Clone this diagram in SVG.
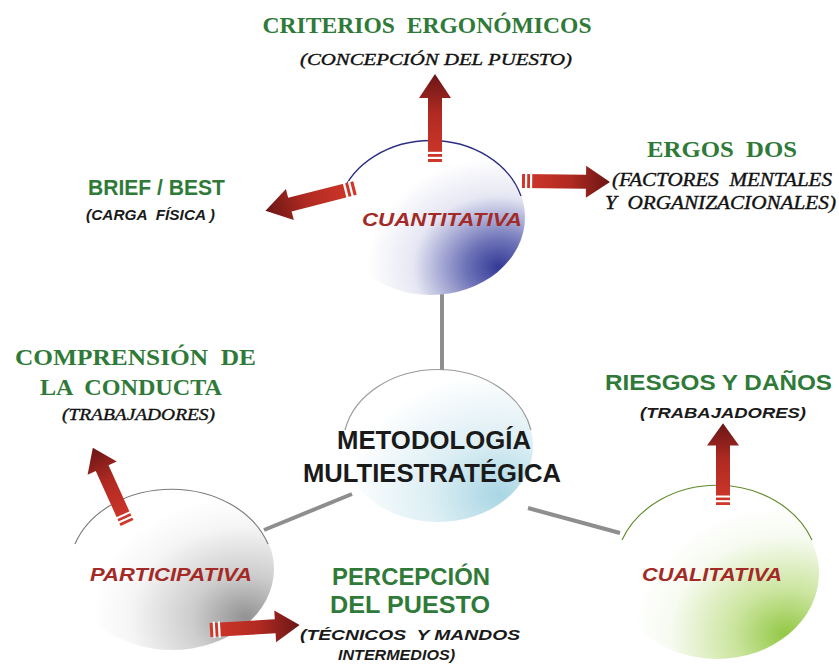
<svg xmlns="http://www.w3.org/2000/svg" xmlns:xlink="http://www.w3.org/1999/xlink" width="839" height="666" viewBox="0 0 839 666" xml:space="preserve">
<style>
text{white-space:pre;}
.g-serif{font-family:"Liberation Serif","Times New Roman",serif;font-weight:bold;fill:#2f7a38;}
.i-serif{font-family:"Liberation Serif","Times New Roman",serif;font-style:italic;fill:#111111;stroke:#111111;stroke-width:0.35;}
.g-sans{font-family:"Liberation Sans",Arial,sans-serif;font-weight:bold;fill:#2f7a38;}
.i-sans{font-family:"Liberation Sans",Arial,sans-serif;font-weight:bold;font-style:italic;fill:#1a1a1a;}
.node-lbl{font-family:"Liberation Sans",Arial,sans-serif;font-weight:bold;font-style:italic;fill:#a32a26;font-size:19px;}
.main-lbl{font-family:"Liberation Sans",Arial,sans-serif;font-weight:bold;fill:#1a1a1a;font-size:25px;}
.conn{stroke:#8e8e8e;stroke-width:4;fill:none;}
</style>
<defs>
<linearGradient id="arrGrad" x1="0" y1="0" x2="1" y2="0">
<stop offset="0" stop-color="#d2372a"/>
<stop offset="0.55" stop-color="#b02a22"/>
<stop offset="1" stop-color="#6a1616"/>
</linearGradient>
<radialGradient id="gBlue" cx="0.86" cy="0.82" r="0.7">
<stop offset="0" stop-color="#343a96"/>
<stop offset="0.25" stop-color="#6e73b8"/>
<stop offset="0.65" stop-color="#e6e7f3"/>
<stop offset="1" stop-color="#ffffff"/>
</radialGradient>
<radialGradient id="gCyan" cx="0.82" cy="0.82" r="0.8">
<stop offset="0" stop-color="#a9d6e4"/>
<stop offset="0.45" stop-color="#dceef4"/>
<stop offset="1" stop-color="#ffffff"/>
</radialGradient>
<radialGradient id="gGray" cx="0.86" cy="0.8" r="0.75">
<stop offset="0" stop-color="#929292"/>
<stop offset="0.35" stop-color="#cdcdcd"/>
<stop offset="0.75" stop-color="#f5f5f5"/>
<stop offset="1" stop-color="#ffffff"/>
</radialGradient>
<radialGradient id="gGreen" cx="0.84" cy="0.86" r="0.75">
<stop offset="0" stop-color="#92c743"/>
<stop offset="0.35" stop-color="#cbe59f"/>
<stop offset="0.75" stop-color="#f6faef"/>
<stop offset="1" stop-color="#ffffff"/>
</radialGradient>
<g id="arrow">
<path d="M0,-7 L64,-7 L64,-16 L88,0 L64,16 L64,7 L0,7 Z" fill="url(#arrGrad)"/>
<rect x="3" y="-8" width="2.2" height="16" fill="#ffffff"/>
<rect x="8" y="-8" width="2.2" height="16" fill="#ffffff"/>
</g>
</defs>

<g id="connectors">
<line class="conn" x1="442" y1="294" x2="442" y2="371"/>
<line class="conn" x1="264" y1="530" x2="352" y2="494"/>
<line class="conn" x1="528" y1="508" x2="620" y2="533"/>
</g>

<g id="node-cuantitativa">
<ellipse cx="431" cy="217" rx="94" ry="78" fill="url(#gBlue)"/>
<path d="M341,196 A94,78 0 0 1 521,196" fill="none" stroke="#2b2f80" stroke-width="1.3"/>
<text class="node-lbl" x="442" y="226" text-anchor="middle" textLength="160" lengthAdjust="spacingAndGlyphs">CUANTITATIVA</text>
</g>

<g id="node-metodologia">
<ellipse cx="438" cy="446" rx="95" ry="76" fill="url(#gCyan)"/>
<path d="M345,430 A95,76 0 0 1 531,430" fill="none" stroke="#9a9a9a" stroke-width="1.2"/>
<text class="main-lbl" x="434" y="449" text-anchor="middle" textLength="194" lengthAdjust="spacingAndGlyphs">METODOLOGÍA</text>
<text class="main-lbl" x="432" y="482" text-anchor="middle" textLength="258" lengthAdjust="spacingAndGlyphs">MULTIESTRATÉGICA</text>
</g>

<g id="node-participativa">
<ellipse cx="172" cy="569" rx="102" ry="81" fill="url(#gGray)"/>
<path d="M75,544 A102,81 0 0 1 268,544" fill="none" stroke="#7a7a7a" stroke-width="1.1"/>
<text class="node-lbl" x="171" y="581" text-anchor="middle" textLength="162" lengthAdjust="spacingAndGlyphs">PARTICIPATIVA</text>
</g>

<g id="node-cualitativa">
<ellipse cx="717" cy="573" rx="102" ry="86" fill="url(#gGreen)"/>
<path d="M622,540 A102,86 0 0 1 812,540" fill="none" stroke="#5f8a2a" stroke-width="1.1"/>
<text class="node-lbl" x="712" y="581" text-anchor="middle" textLength="140" lengthAdjust="spacingAndGlyphs">CUALITATIVA</text>
</g>

<g id="arrows">
<use xlink:href="#arrow" href="#arrow" transform="translate(435,162) rotate(-90)"/>
<use xlink:href="#arrow" href="#arrow" transform="translate(355,188) rotate(165.7) scale(1.05,1)"/>
<use xlink:href="#arrow" href="#arrow" transform="translate(522,181) rotate(0.6)"/>
<use xlink:href="#arrow" href="#arrow" transform="translate(723,505) rotate(-90) scale(0.93,1)"/>
<use xlink:href="#arrow" href="#arrow" transform="translate(127,523) rotate(-114.4) scale(0.94,1)"/>
<use xlink:href="#arrow" href="#arrow" transform="translate(210,630) rotate(-3.2) scale(1.02,1)"/>
</g>

<g id="label-criterios">
<text class="g-serif" x="427" y="33" text-anchor="middle" font-size="23" textLength="329" lengthAdjust="spacingAndGlyphs">CRITERIOS  ERGONÓMICOS</text>
<text class="i-serif" x="436" y="65" text-anchor="middle" font-size="16" textLength="272" lengthAdjust="spacingAndGlyphs">(CONCEPCIÓN DEL PUESTO)</text>
</g>

<g id="label-ergos">
<text class="g-serif" x="722" y="157" text-anchor="middle" font-size="23" textLength="150" lengthAdjust="spacingAndGlyphs">ERGOS  DOS</text>
<text class="i-serif" x="612" y="186" font-size="18" textLength="220" lengthAdjust="spacingAndGlyphs">(FACTORES  MENTALES</text>
<text class="i-serif" x="605" y="209" font-size="18" textLength="231" lengthAdjust="spacingAndGlyphs">Y  ORGANIZACIONALES)</text>
</g>

<g id="label-brief">
<text class="g-sans" x="88" y="195" font-size="22" textLength="137" lengthAdjust="spacingAndGlyphs">BRIEF / BEST</text>
<text class="i-sans" x="86" y="220" font-size="14" textLength="129" lengthAdjust="spacingAndGlyphs">(CARGA  FÍSICA )</text>
</g>

<g id="label-comprension">
<text class="g-serif" x="15" y="365" font-size="23" textLength="241" lengthAdjust="spacingAndGlyphs">COMPRENSIÓN  DE</text>
<text class="g-serif" x="40" y="395" font-size="23" textLength="182" lengthAdjust="spacingAndGlyphs">LA  CONDUCTA</text>
<text class="i-serif" x="62" y="420" font-size="16" textLength="153" lengthAdjust="spacingAndGlyphs">(TRABAJADORES)</text>
</g>

<g id="label-riesgos">
<text class="g-sans" x="605" y="390" font-size="22" textLength="227" lengthAdjust="spacingAndGlyphs">RIESGOS Y DAÑOS</text>
<text class="i-sans" x="640" y="418" font-size="15" textLength="166" lengthAdjust="spacingAndGlyphs">(TRABAJADORES)</text>
</g>

<g id="label-percepcion">
<text class="g-sans" x="411" y="585" text-anchor="middle" font-size="24" textLength="158" lengthAdjust="spacingAndGlyphs">PERCEPCIÓN</text>
<text class="g-sans" x="410" y="613" text-anchor="middle" font-size="24" textLength="160" lengthAdjust="spacingAndGlyphs">DEL PUESTO</text>
<text class="i-sans" x="300" y="640" font-size="15" textLength="220" lengthAdjust="spacingAndGlyphs">(TÉCNICOS  Y MANDOS</text>
<text class="i-sans" x="338" y="660" font-size="15" textLength="117" lengthAdjust="spacingAndGlyphs">INTERMEDIOS)</text>
</g>
</svg>
